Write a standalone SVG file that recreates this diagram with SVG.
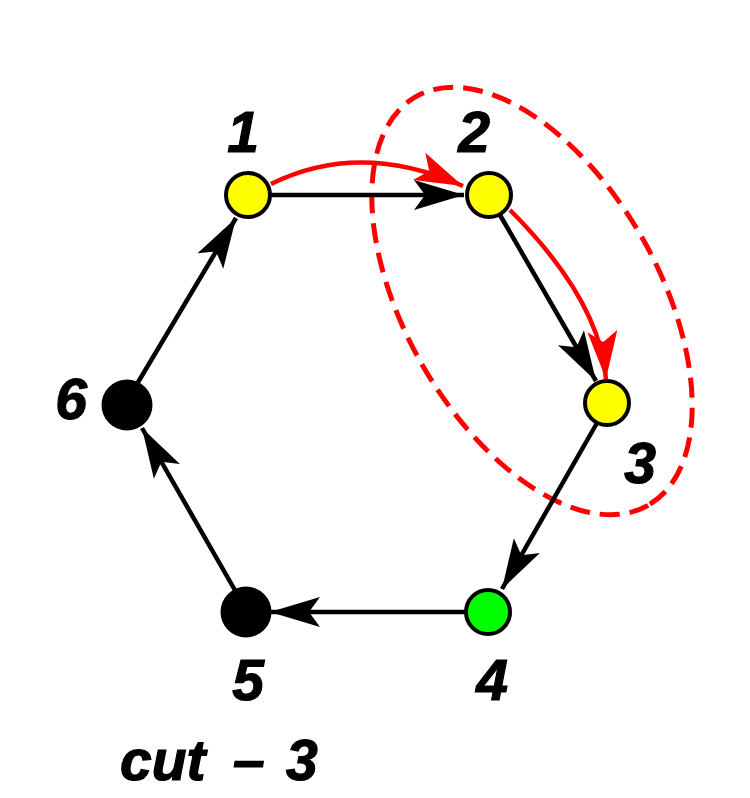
<svg xmlns="http://www.w3.org/2000/svg" width="750" height="798" viewBox="0 0 750 798">
<defs>
<marker id="ab" markerUnits="userSpaceOnUse" markerWidth="60" markerHeight="40" viewBox="-55 -20 60 40" refX="0" refY="0" orient="auto">
<path d="M0,0 L-50,-15 L-39,0 L-50,15 Z" fill="#000"/>
</marker>
<marker id="ar" markerUnits="userSpaceOnUse" markerWidth="60" markerHeight="40" viewBox="-55 -20 60 40" refX="0" refY="0" orient="auto">
<path d="M0,0 L-48,-15 L-37,0 L-48,15 Z" fill="#f00"/>
</marker>
<style>
.e{stroke:#000;stroke-width:4.5;fill:none;marker-end:url(#ab)}
.r{stroke:#f00;stroke-width:4.5;fill:none;marker-end:url(#ar)}
.n{stroke:#000;stroke-width:4}
.t{font-family:"Liberation Sans",Arial,sans-serif;font-weight:bold;font-style:italic;font-size:57px;fill:#000;stroke:#000;stroke-width:1.2;text-anchor:middle}
</style>
</defs>
<rect width="750" height="798" fill="#fff"/>
<ellipse cx="532" cy="301" rx="235" ry="127" transform="rotate(60.4 532 301)" fill="none" stroke="#f00" stroke-width="5" stroke-dasharray="20 10"/>
<g id="connectors">
<line class="e" x1="270" y1="195" x2="464" y2="195"/>
<line class="e" x1="500" y1="215" x2="596" y2="381"/>
<line class="e" x1="597" y1="423" x2="502" y2="589"/>
<line class="e" x1="465" y1="612" x2="270" y2="612"/>
<line class="e" x1="236" y1="592" x2="142" y2="428"/>
<line class="e" x1="137" y1="384" x2="236" y2="218"/>
<path class="r" d="M271,184 Q360,140 463,186"/>
<path class="r" d="M510,210 Q600,300 606,379"/>
</g>
<g id="node1"><circle class="n" cx="248" cy="195" r="22" fill="#ff0"/><text class="t" x="243" y="152">1</text></g>
<g id="node2"><circle class="n" cx="489" cy="195" r="22" fill="#ff0"/><text class="t" x="474" y="152">2</text></g>
<g id="node3"><circle class="n" cx="607" cy="403" r="22" fill="#ff0"/><text class="t" x="640" y="483">3</text></g>
<g id="node4"><circle class="n" cx="488" cy="612" r="22" fill="#0f0"/><text class="t" x="492" y="700">4</text></g>
<g id="node5"><circle cx="246" cy="612" r="25.5" fill="#000"/><text class="t" x="248" y="700">5</text></g>
<g id="node6"><circle cx="127" cy="405" r="25.5" fill="#000"/><text class="t" x="71" y="419">6</text></g>
<text class="t" x="120" y="780" style="text-anchor:start">cut <tspan x="233">– </tspan><tspan x="286">3</tspan></text>
</svg>
